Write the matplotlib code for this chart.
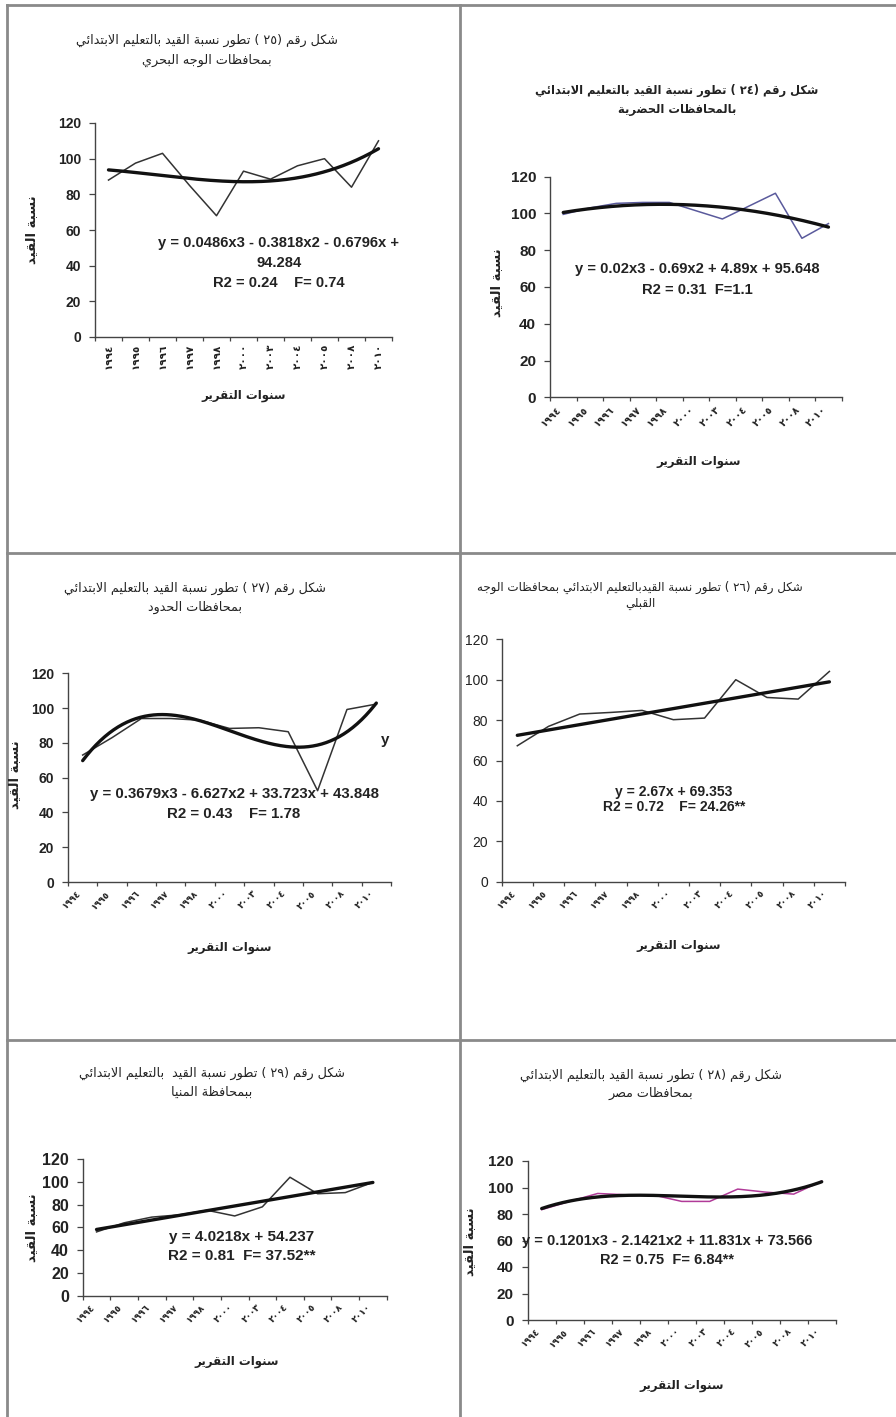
import numpy as np
import matplotlib
matplotlib.use('Agg')
import matplotlib.pyplot as plt
from matplotlib.lines import Line2D
import re

W, H = 896, 1417

years = ['١٩٩٤', '١٩٩٥', '١٩٩٦', '١٩٩٧', '١٩٩٨', '٢٠٠٠', '٢٠٠٣', '٢٠٠٤', '٢٠٠٥', '٢٠٠٨', '٢٠١٠']

# enrolment ratio
val_25 = [88, 97.5, 103, 85, 68, 93, 88.5, 96, 100, 84, 110]
val_24 = [99.5, 103, 105.5, 106, 106, 101.5, 97, 104, 111, 86.5, 94.5]
val_27 = [73, 83, 94, 94, 93, 88.3, 88.7, 86.4, 52.5, 99.2, 102.3]
val_26 = [67.3, 76.9, 83, 83.8, 84.8, 80.2, 81, 100, 91.2, 90.4, 104.1]
val_29 = [56, 64, 69, 71, 75, 70, 78, 104, 89.5, 90.5, 99.5]
val_28 = [83.3, 89.5, 95.5, 94.5, 94.3, 89.5, 89.5, 98.8, 96.5, 95, 104.8]

title_25 = ['شكل رقم (٢٥ ) تطور نسبة القيد بالتعليم الابتدائي', 'بمحافظات الوجه البحري']
title_24 = ['شكل رقم (٢٤ ) تطور نسبة القيد بالتعليم الابتدائي', 'بالمحافظات الحضرية']
title_27 = ['شكل رقم (٢٧ ) تطور نسبة القيد بالتعليم الابتدائي', 'بمحافظات الحدود']
title_26 = ['شكل رقم (٢٦ ) تطور نسبة القيدبالتعليم الابتدائي بمحافظات الوجه', 'القبلي']
title_29 = ['شكل رقم (٢٩ ) تطور نسبة القيد  بالتعليم الابتدائي', 'ببمحافظة المنيا']
title_28 = ['شكل رقم (٢٨ ) تطور نسبة القيد بالتعليم الابتدائي', 'بمحافظات مصر']

eq_25 = ['y = 0.0486x3 - 0.3818x2 - 0.6796x +', '94.284', 'R2 = 0.24    F= 0.74']
eq_24 = ['y = 0.02x3 - 0.69x2 + 4.89x + 95.648', 'R2 = 0.31  F=1.1']
eq_27 = ['y = 0.3679x3 - 6.627x2 + 33.723x + 43.848', 'R2 = 0.43    F= 1.78']
eq_26 = ['y = 2.67x + 69.353', 'R2 = 0.72    F= 24.26**']
eq_29 = ['y = 4.0218x + 54.237', 'R2 = 0.81  F= 37.52**']
eq_28 = ['y = 0.1201x3 - 2.1421x2 + 11.831x + 73.566', 'R2 = 0.75  F= 6.84**']

ylabel = 'نسبة القيد'
xlabel = 'سنوات التقرير'

# ---- tiny arabic shaper (matplotlib has no complex text layout) ----
LETTERS = 'ءآأؤإئابةتثجحخدذرزسشصضطظعغفقكلمنهوىي'
NFORMS = [1, 2, 2, 2, 2, 4, 2, 4, 2, 4, 4, 4, 4, 4, 2, 2, 2, 2, 4, 4, 4, 4, 4, 4, 4, 4,
          4, 4, 4, 4, 4, 4, 4, 2, 2, 4]
FORMS = {}
cp = 0xFE80
for ch, n in zip(LETTERS, NFORMS):
    FORMS[ch] = (cp, n)
    cp += n
LAMALEF = {'آ': 0xFEF5, 'أ': 0xFEF7, 'إ': 0xFEF9, 'ا': 0xFEFB}


def shape(s):
    res = []
    i = 0
    while i < len(s):
        c = s[i]
        if c not in FORMS:
            res.append(c)
            i += 1
            continue
        prev = s[i - 1] if i > 0 else ''
        jp = prev in FORMS and FORMS[prev][1] == 4
        if c == 'ل' and i + 1 < len(s) and s[i + 1] in LAMALEF:
            res.append(chr(LAMALEF[s[i + 1]] + (1 if jp else 0)))
            i += 2
            continue
        base, n = FORMS[c]
        nxt = s[i + 1] if i + 1 < len(s) else ''
        jn = n == 4 and nxt in FORMS and nxt != 'ء'
        if n == 1:
            res.append(chr(base))
        else:
            idx = (3 if jn else 1) if jp else (2 if jn else 0)
            res.append(chr(base + idx))
        i += 1
    return ''.join(res)


def ar(s):
    vis = shape(s)[::-1]
    vis = re.sub(r'[0-9\u0660-\u0669]+', lambda m: m.group(0)[::-1], vis)
    return vis.translate(str.maketrans('()', ')('))


AR_FONT = ['DejaVu Sans']
NUM_FONT = ['Liberation Sans', 'DejaVu Sans']
INK = '#222222'

fig = plt.figure(figsize=(W / 100, H / 100), dpi=100)
fig.patch.set_facecolor('white')


def fx(x):
    return x / W


def fy(y):
    return 1 - y / H


def panel(vals, deg, color, title, eqs, box, tpos, ylab, xlab, eqx, eqy,
          rot=45, tick_fs=10, tick_w='bold', eq_fs=10, xt_fs=6.5,
          title_fs=9.2, title_w='normal'):
    x0, y0, x1, y1 = box
    ax = fig.add_axes([fx(x0), fy(y1), fx(x1 - x0), (y1 - y0) / H])
    x = np.arange(len(vals))
    ax.plot(x, vals, color=color, lw=1.1, zorder=2)
    # trend line fitted on the data, as the spreadsheet did
    coef = np.polyfit(x + 1, vals, deg)
    xs = np.linspace(0, len(vals) - 1, 200)
    ax.plot(xs, np.polyval(coef, xs + 1), color='#111111', lw=2.4,
            solid_capstyle='round', zorder=3)
    ax.set_xlim(-0.5, len(vals) - 0.5)
    ax.set_ylim(0, 120)
    ax.set_yticks(range(0, 121, 20))
    ax.set_xticks(np.arange(-0.5, len(vals), 1))
    ax.set_xticklabels([])
    ax.set_xticks(x, minor=True)
    ax.set_xticklabels(years, minor=True, rotation=rot,
                       ha='center' if rot == 90 else 'right',
                       va='top', fontsize=xt_fs, family=AR_FONT,
                       fontweight='bold', color=INK)
    ax.tick_params(axis='x', which='minor', length=0, pad=5)
    ax.tick_params(axis='x', which='major', length=3, direction='out',
                   color='#444444', width=0.9)
    ax.tick_params(axis='y', length=4, direction='out', color='#444444',
                   width=0.9, labelsize=tick_fs, pad=6, labelcolor=INK)
    for lab in ax.get_yticklabels():
        lab.set_family(NUM_FONT)
        lab.set_fontweight(tick_w)
    for s in ['top', 'right']:
        ax.spines[s].set_visible(False)
    for s in ['left', 'bottom']:
        ax.spines[s].set_color('#444444')
        ax.spines[s].set_linewidth(1.0)
    ax.patch.set_alpha(0)

    tx, ty1, ty2 = tpos
    fig.text(fx(tx), fy(ty1), ar(title[0]), ha='center', va='center',
             fontsize=title_fs, fontweight=title_w, family=AR_FONT, color=INK)
    fig.text(fx(tx), fy(ty2), ar(title[1]), ha='center', va='center',
             fontsize=title_fs, fontweight=title_w, family=AR_FONT, color=INK)
    if ylab is not None:
        fig.text(fx(ylab[0]), fy(ylab[1]), ar(ylabel), rotation=90,
                 ha='center', va='center', fontsize=9.5, fontweight='bold',
                 family=AR_FONT, color=INK)
    fig.text(fx(xlab[0]), fy(xlab[1]), ar(xlabel), ha='center', va='center',
             fontsize=8.5, fontweight='bold', family=AR_FONT, color=INK)
    for line, yy in zip(eqs, eqy):
        fig.text(fx(eqx), fy(yy), line, ha='center', va='center',
                 fontsize=eq_fs, fontweight='bold', family=NUM_FONT, color=INK)
    return ax


panel(val_25, 3, '#333333', title_25, eq_25, (95, 123, 392, 337),
      (207, 40, 60), (32, 230), (244, 395), 279, [243, 263, 283],
      rot=90, tick_fs=10, eq_fs=10.6, xt_fs=7.5)
panel(val_24, 3, '#5a5a9c', title_24, eq_24, (550, 176.7, 841.7, 397.3),
      (677, 90, 110), (497, 283), (699, 462), 697, [269, 290],
      tick_fs=11, eq_fs=10.6, title_fs=8.3, title_w='bold', xt_fs=7)
panel(val_27, 3, '#333333', title_27, eq_27, (68, 673.3, 391, 882),
      (195, 588, 607), (15, 775), (230, 948), 234, [794, 814],
      tick_fs=10, eq_fs=10.8)
panel(val_26, 1, '#333333', title_26, eq_26, (501.7, 639.3, 845, 881.7),
      (640, 587, 603), None, (679, 946), 674, [792, 807],
      tick_fs=10, tick_w='normal', eq_fs=10, title_fs=8.6)
panel(val_29, 1, '#333333', title_29, eq_29, (82.7, 1159, 386.7, 1295.7),
      (212, 1073, 1092), (32, 1228), (237, 1361), 242, [1237, 1256],
      tick_fs=11.5, eq_fs=11)
panel(val_28, 3, '#b03a98', title_28, eq_28, (527.7, 1161, 835.7, 1320),
      (651, 1075, 1093), (470, 1242), (682, 1385), 667, [1241, 1260],
      tick_fs=11, eq_fs=10.5)

# stray legend letter left on figure 27
fig.text(fx(385), fy(740), 'y', ha='center', va='center', fontsize=11,
         fontweight='bold', family=NUM_FONT, color=INK)

# table borders around the six figures
border = dict(color='#8a8a8a', lw=2.0, transform=fig.transFigure)
fig.add_artist(Line2D([fx(7), 1], [fy(5), fy(5)], **border))
fig.add_artist(Line2D([fx(7), 1], [fy(553.5), fy(553.5)], **border))
fig.add_artist(Line2D([fx(7), 1], [fy(1040), fy(1040)], **border))
fig.add_artist(Line2D([fx(7), fx(7)], [fy(5), 0], **border))
fig.add_artist(Line2D([fx(460), fx(460)], [fy(5), 0], **border))

fig.savefig('out.png', dpi=100, facecolor='white')
